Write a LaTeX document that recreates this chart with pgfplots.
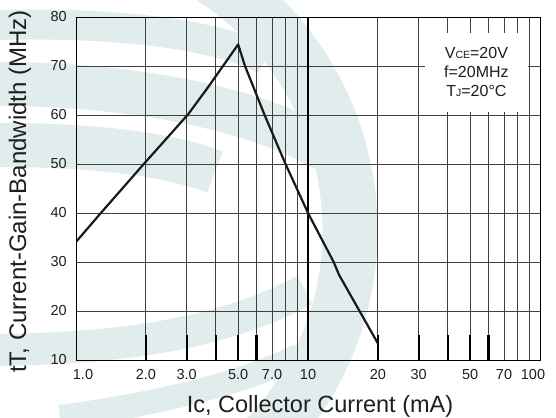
\documentclass[border=0pt]{standalone}
\usepackage{pgfplots}
\pgfplotsset{compat=1.18}
\usepackage{fontspec}
\setmainfont{Liberation Sans}
\definecolor{wm}{RGB}{225,236,236}
\definecolor{txt}{RGB}{30,30,30}
\begin{document}
\begin{tikzpicture}
\useasboundingbox (-76pt,-57pt) rectangle (480pt,360pt);
% faint logo watermark behind the chart (image coordinates, y downwards)
\begin{scope}
\clip (-76pt,-57pt) rectangle (480pt,360pt);
\begin{scope}[shift={(-76pt,360pt)}, yscale=-1, x=1pt, y=1pt]
  \draw[wm, line width=55pt] (50,230) ++(-60:300) arc[start angle=-60, end angle=60, radius=300];
  \draw[wm, line width=30pt] (0,25) .. controls (120,22) and (220,35) .. (265,60);
  \draw[wm, line width=44pt] (0,84) .. controls (120,84) and (250,105) .. (325,150);
  \draw[wm, line width=44pt] (0,145) .. controls (100,145) and (170,155) .. (215,172);
  \draw[wm, line width=32pt] (0,350) .. controls (120,348) and (220,335) .. (305,290);
  \draw[wm, line width=24pt] (60,417) .. controls (150,405) and (240,385) .. (300,355);
\end{scope}
\end{scope}
\begin{axis}[
  name=ax,
  at={(0,0)}, anchor=south west,
  scale only axis,
  width=464pt, height=343pt,
  xmode=log,
  xmin=1, xmax=100, ymin=10, ymax=80,
  xtick={1,2,3,5,7,10,20,30,50,70,100},
  xticklabels={\hspace*{14pt}1.0,2.0,3.0,5.0,7.0,10,20,30,50,70,100\hspace*{14pt}},
  minor xtick={4,6,8,9,40,60,80,90},
  ytick={10,20,...,80},
  /pgf/number format/assume math mode=true,
  xmajorgrids, xminorgrids, ymajorgrids,
  major grid style={color=black!75, line width=0.8pt},
  minor grid style={color=black!75, line width=0.8pt},
  major tick length=0pt, minor tick length=0pt,
  tick style={draw=none},
  axis line style={black, line width=0.9pt},
  yticklabel style={font=\fontsize{14.5}{16}\selectfont, text=txt, anchor=east, inner sep=0pt, xshift=-9pt},
  xticklabel style={font=\fontsize{14.5}{16}\selectfont, text=txt, anchor=north, inner sep=0pt, yshift=-9pt},
  xlabel={Ic, Collector Current (mA)},
  ylabel={tT, Current-Gain-Bandwidth (MHz)},
  xlabel style={font=\fontsize{23.5}{26}\selectfont, text=txt, at={(axis description cs:0.5259,-0.104)}, anchor=north, inner sep=0pt},
  ylabel style={font=\fontsize{24}{27}\selectfont, text=txt, at={(axis description cs:-0.121,0.4913)}, anchor=center, inner sep=0pt},
]
\draw[black, line width=1.3pt] (axis cs:10,10) -- (axis cs:10,80);
% thick tick stubs along the bottom edge
\addplot[ycomb, black, line width=2.2pt, forget plot] coordinates {
  (2,15.1) (3,15.1) (4,15.1) (5,15.1) (6,15.1) (20,15.1) (30,15.1) (40,15.1) (50,15.1) (60,15.1)
};
\node[fill=white, minimum width=103pt, minimum height=79pt, inner sep=0pt, align=center,
  font=\fontsize{16}{19}\selectfont, text=txt]
  at (axis cs:53.2,68.7)
  {V{\fontsize{10.5}{12}\selectfont CE}=20V\\ f=20MHz\\ T{\fontsize{10.5}{12}\selectfont J}=20°C};
\addplot[black!90, line width=2.2pt, line join=round] coordinates {
  (1,34.1) (1.28,40) (1.96,50) (2.5,55.6) (3.05,60.2) (3.7,65.6) (5,74.4)
  (5.35,70) (6.5,60) (8,50) (10,40) (12.9,30) (13.6,27.4) (20,13.4)
};
\end{axis}
\end{tikzpicture}
\end{document}
